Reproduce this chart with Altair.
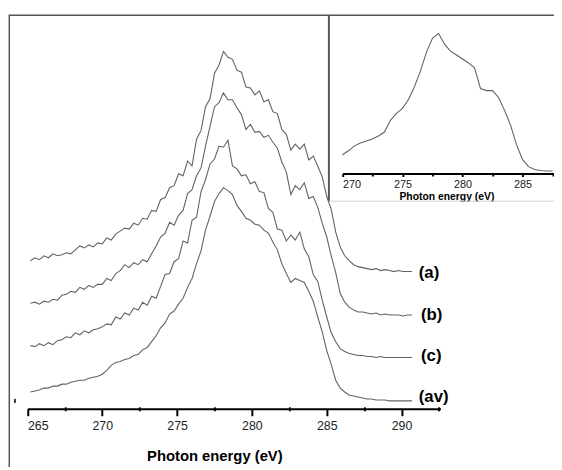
import altair as alt
import pandas as pd

# ---------------- data ----------------
energy = [
    265.2, 265.5, 265.8, 266.1, 266.4, 266.7, 267.0, 267.3, 267.6, 267.9,
    268.2, 268.5, 268.8, 269.1, 269.4, 269.7, 270.0, 270.3, 270.6, 270.9,
    271.2, 271.5, 271.8, 272.1, 272.4, 272.7, 273.0, 273.3, 273.6, 273.9,
    274.2, 274.5, 274.8, 275.1, 275.4, 275.7, 276.0, 276.3, 276.6, 276.9,
    277.2, 277.5, 277.8, 278.1, 278.4, 278.7, 279.0, 279.3, 279.6, 279.9,
    280.2, 280.5, 280.8, 281.1, 281.4, 281.7, 282.0, 282.3, 282.6, 282.9,
    283.2, 283.5, 283.8, 284.1, 284.4, 284.7, 285.0, 285.3, 285.6, 285.9,
    286.2, 286.5, 286.8, 287.1, 287.4, 287.7, 288.0, 288.3, 288.6, 288.9,
    289.2, 289.5, 289.8, 290.1, 290.4, 290.7,
]
spec_a = [
    150, 153, 151, 155, 153, 157, 155, 156, 158, 157,
    161, 165, 163, 166, 164, 168, 167, 173, 171, 177,
    180, 183, 182, 188, 186, 193, 192, 201, 200, 212,
    214, 224, 226, 238, 236, 251, 246, 273, 282, 306,
    314, 340, 348, 362, 356, 354, 343, 341, 326, 325,
    318, 322, 311, 313, 301, 299, 283, 278, 262, 268,
    263, 268, 252, 256, 246, 235, 215, 202, 179, 164,
    155, 150, 146, 144, 143, 142, 141, 142, 140, 141,
    140, 139, 140, 139, 139, 139,
]
spec_b = [
    107, 108, 106, 109, 108, 111, 110, 115, 116, 119,
    118, 123, 121, 125, 123, 126, 126, 132, 130, 137,
    140, 146, 143, 148, 146, 151, 149, 157, 165, 174,
    178, 189, 186, 196, 201, 218, 222, 236, 244, 266,
    286, 306, 310, 320, 313, 313, 305, 298, 283, 288,
    280, 281, 275, 277, 270, 264, 250, 240, 217, 226,
    222, 229, 213, 215, 204, 188, 174, 155, 138, 117,
    108, 103, 100, 98, 98, 97, 96, 97, 95, 96,
    95, 95, 95, 94, 95, 95,
]
spec_c = [
    64, 63, 66, 64, 67, 65, 69, 70, 73, 72,
    77, 75, 79, 77, 80, 81, 83, 86, 85, 93,
    91, 97, 95, 102, 100, 108, 105, 114, 112, 124,
    136, 137, 149, 152, 170, 168, 191, 194, 220, 232,
    248, 253, 266, 265, 272, 246, 243, 236, 237, 228,
    230, 220, 219, 203, 199, 182, 181, 170, 176, 171,
    179, 162, 154, 136, 129, 110, 93, 77, 68, 61,
    58, 56, 55, 54, 54, 53, 53, 52, 53, 52,
    52, 52, 52, 52, 52, 52,
]
spec_av = [
    17, 18, 19, 21, 21, 23, 23, 25, 25, 27,
    28, 29, 29, 31, 32, 33, 35, 39, 44, 47,
    48, 50, 51, 54, 55, 60, 62, 68, 74, 82,
    87, 96, 99, 106, 112, 123, 132, 147, 160, 181,
    195, 210, 218, 224, 221, 217, 206, 200, 193, 191,
    187, 186, 181, 178, 169, 161, 147, 137, 128, 132,
    130, 128, 119, 109, 93, 78, 59, 45, 29, 21,
    17, 14, 13, 12, 11, 10, 10, 9, 9, 9,
    8, 8, 8, 8, 8, 8,
]
series_names = ["(a)", "(b)", "(c)", "(av)"]
label_energy = [291.15, 291.3, 291.3, 291.15]
label_level = [138, 95, 53, 12]

inset_energy = [
    270.0, 270.5, 271.0, 271.5, 272.0, 272.5, 273.0, 273.5, 274.0, 274.5,
    275.0, 275.5, 276.0, 276.5, 277.0, 277.5, 278.0, 278.5, 279.0, 279.5,
    280.0, 280.5, 281.0, 281.5, 282.0, 282.5, 283.0, 283.5, 284.0, 284.5,
    285.0, 285.5, 286.0, 286.5, 287.0, 287.5,
]
inset_values = [
    19, 23, 28, 31, 33, 35, 38, 42, 54, 61,
    66, 75, 88, 104, 123, 137, 142, 131, 124, 120,
    116, 112, 107, 86, 84, 84, 77, 64, 49, 29,
    14, 7, 4, 3, 2.5, 2.5,
]
main_major_ticks = [265, 270, 275, 280, 285, 290]
main_minor_ticks = [267.5, 272.5, 277.5, 282.5, 287.5, 292.5]
inset_major_ticks = [270, 275, 280, 285]
inset_minor_ticks = [272.5, 277.5, 282.5, 287.5]

# ---------------- tables ----------------
rows = []
for name, vals in zip(series_names, [spec_a, spec_b, spec_c, spec_av]):
    for e, v in zip(energy, vals):
        rows.append({"E": e, "I": v, "s": name})
main_df = pd.DataFrame(rows)
lab_df = pd.DataFrame({"E": label_energy, "I": label_level, "t": series_names})
inset_df = pd.DataFrame({"E": inset_energy, "I": inset_values})
one = pd.DataFrame({"k": [0]})

FONT = "Liberation Sans"
INK = "#000000"
CURVE = "#626262"


def main_x():
    return alt.Scale(domain=[265, 292.6], range=[18.7, 437], nice=False, zero=False)


def main_y():
    return alt.Scale(domain=[0, 400], range=[399, -1], nice=False, zero=False)


def inset_x():
    return alt.Scale(domain=[270, 287.6], range=[337.7, 551.8], nice=False, zero=False)


def inset_y():
    return alt.Scale(domain=[0, 160], range=[160.7, 0.7], nice=False, zero=False)


main_axis = alt.Axis(
    orient="bottom", values=main_major_ticks, grid=False, format="d", offset=-1,
    tickSize=7, labelFont=FONT, labelFontSize=12.5, labelColor="#222", labelPadding=4,
    title="Photon energy (eV)", titleFont=FONT, titleFontSize=15, titleFontWeight="bold",
    titleColor=INK, titleX=208, titleY=52, titleAlign="center", titleBaseline="alphabetic",
)
main_minor_axis = alt.Axis(
    orient="bottom", values=main_minor_ticks, grid=False, labels=False, domain=False, offset=-3,
    tickSize=4, title=None,
)

curves = alt.Chart(main_df).mark_line(color=CURVE, strokeWidth=1.1).encode(
    x=alt.X("E:Q", scale=main_x(), axis=main_axis),
    y=alt.Y("I:Q", scale=main_y(), axis=None),
    detail="s:N",
)
main_minor = alt.Chart(main_df).mark_point(opacity=0).encode(
    x=alt.X("E:Q", scale=main_x(), axis=main_minor_axis),
    y=alt.Y("I:Q", scale=main_y(), axis=None),
)
labels = alt.Chart(lab_df).mark_text(
    align="left", baseline="middle", font=FONT, fontSize=17, fontWeight="bold", color=INK
).encode(
    x=alt.X("E:Q", scale=main_x(), axis=None),
    y=alt.Y("I:Q", scale=main_y(), axis=None),
    text="t:N",
)

inset_axis = alt.Axis(
    orient="bottom", offset=-239.3, values=inset_major_ticks, grid=False, format="d",
    tickSize=3, labelFont=FONT, labelFontSize=11, labelColor="#222", labelPadding=2,
    title="Photon energy (eV)", titleFont=FONT, titleFontSize=10.5, titleFontWeight="bold",
    titleColor=INK, titleX=443, titleY=26.5, titleAlign="center", titleBaseline="alphabetic",
)
inset_minor_axis = alt.Axis(
    orient="bottom", offset=-239.3, values=inset_minor_ticks, grid=False, labels=False,
    domain=False, tickSize=2.5, title=None,
)
inset = alt.Chart(inset_df).mark_line(color=CURVE, strokeWidth=1.1).encode(
    x=alt.X("E:Q", scale=inset_x(), axis=inset_axis),
    y=alt.Y("I:Q", scale=inset_y(), axis=None),
)
inset_minor = alt.Chart(inset_df).mark_point(opacity=0).encode(
    x=alt.X("E:Q", scale=inset_x(), axis=inset_minor_axis),
    y=alt.Y("I:Q", scale=inset_y(), axis=None),
)

# frame decorations
frame_left = alt.Chart(one).mark_rule(color="#555", strokeWidth=1.5).encode(
    x=alt.value(0.3), y=alt.value(0), y2=alt.value(458))
frame_top = alt.Chart(one).mark_rule(color="#555", strokeWidth=1.5).encode(
    x=alt.value(0), x2=alt.value(553), y=alt.value(0.3))
inset_left = alt.Chart(one).mark_rule(color="#555", strokeWidth=2).encode(
    x=alt.value(324), y=alt.value(0), y2=alt.value(188.7))
inset_bottom = alt.Chart(one).mark_rule(color="#d0d0d0", strokeWidth=1).encode(
    x=alt.value(324), x2=alt.value(553), y=alt.value(188.7))
small_dash = alt.Chart(one).mark_rule(color="#333", strokeWidth=2).encode(
    x=alt.value(6), y=alt.value(389), y2=alt.value(393))

chart = alt.layer(
    frame_left, frame_top, inset_left, inset_bottom, small_dash,
    main_minor, curves, labels, inset_minor, inset,
).resolve_scale(x="independent", y="independent").properties(
    width=552, height=400,
    autosize=alt.AutoSizeParams(type="none"),
    padding={"left": 1, "top": 4, "right": 0, "bottom": 57},
    background="white",
).configure_view(stroke=None).configure_axis(
    domainColor=INK, domainWidth=2, tickColor=INK, tickWidth=2,
)

chart.save("out.html", embed_options={"renderer": "svg", "actions": False})
